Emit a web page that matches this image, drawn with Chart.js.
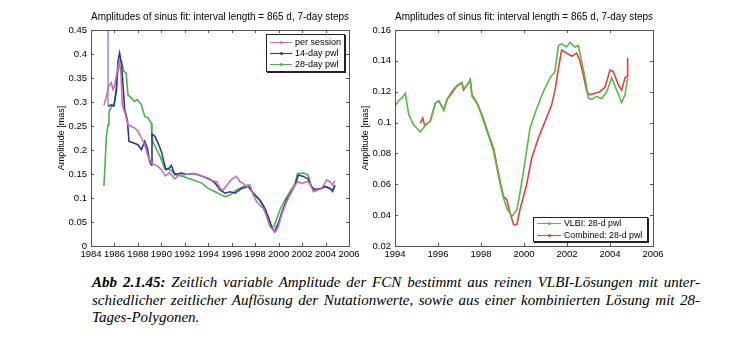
<!DOCTYPE html>
<html lang="de">
<head>
<meta charset="UTF-8">
<title>FCN Amplitude</title>
<script src="https://cdn.jsdelivr.net/npm/chart.js"></script>
<style>
    body {
        margin: 0;
        width: 745px;
        height: 354px;
        background: #fff;
        position: relative;
        overflow: hidden;
        font-family: Arial, "Liberation Sans", sans-serif;
    }
    canvas { position: absolute; top: 0; }
    #leftChart { left: 0; }
    #rightChart { left: 340px; }
    .legend {
        position: absolute;
        background: #fff;
        border: 1px solid #222;
        box-shadow: 1px 1px 0 #222;
        font-size: 9px;
        color: #000;
    }
    .legend .row {
        position: absolute;
        left: 0;
        height: 11px;
        line-height: 11px;
        white-space: nowrap;
    }
    .legend .ln {
        position: absolute;
        top: 5px;
        height: 1px;
    }
    .legend .ln::after {
        content: "";
        position: absolute;
        left: 50%;
        top: -1px;
        width: 3px;
        height: 3px;
        margin-left: -1.5px;
        background: inherit;
        border-radius: 50%;
    }
    .legend .tx { position: absolute; top: 0; }
    #caption {
        position: absolute;
        left: 92px;
        top: 274px;
        width: 608px;
        font-family: "Liberation Serif", "DejaVu Serif", serif;
        font-style: italic;
        font-size: 15px;
        line-height: 17.5px;
        color: #000;
    }
    #caption .j {
        text-align: justify;
        text-align-last: justify;
        white-space: nowrap;
    }
</style>
</head>
<body>
<canvas id="leftChart" width="370" height="270"></canvas>
<canvas id="rightChart" width="405" height="270"></canvas>

<div class="legend" style="left:266px; top:34px; width:77px; height:36px;">
    <div class="row" style="top:2px;"><span class="ln" style="left:3px; width:22px; background:#c46fb6;"></span><span class="tx" style="left:28px;">per session</span></div>
    <div class="row" style="top:13px;"><span class="ln" style="left:3px; width:22px; background:#2d3a8c;"></span><span class="tx" style="left:28px;">14-day pwl</span></div>
    <div class="row" style="top:24px;"><span class="ln" style="left:3px; width:22px; background:#4cb24c;"></span><span class="tx" style="left:28px;">28-day pwl</span></div>
</div>

<div class="legend" style="left:533px; top:217px; width:113px; height:23px; font-size:8.8px;">
    <div class="row" style="top:0px;"><span class="ln" style="left:3px; width:24px; background:#55bb44;"></span><span class="tx" style="left:30px;">VLBI: 28-d pwl</span></div>
    <div class="row" style="top:12px;"><span class="ln" style="left:3px; width:24px; background:#dd4444;"></span><span class="tx" style="left:30px;">Combined: 28-d pwl</span></div>
</div>

<div id="caption">
    <div class="j"><b>Abb 2.1.45:</b> Zeitlich variable Amplitude der FCN bestimmt aus reinen VLBI-Lösungen mit unter-</div>
    <div class="j">schiedlicher zeitlicher Auflösung der Nutationwerte, sowie aus einer kombinierten Lösung mit 28-</div>
    <div>Tages-Polygonen.</div>
</div>

<script>
// ---- data: left panel (VLBI only) ----
var sessYears = [1985.1, 1985.3, 1985.5, 1985.73, 1985.88, 1986.0, 1986.24, 1986.4, 1986.55, 1986.67,
    1986.93, 1987.15, 1987.44, 1987.72, 1988.0, 1988.3, 1988.58, 1988.86, 1989.14, 1989.43,
    1989.71, 1990.0, 1990.34, 1990.71, 1991.14, 1991.5, 1991.87, 1992.3, 1992.87, 1993.44,
    1994.15, 1994.72, 1995.0, 1995.28, 1995.7, 1996.0, 1996.4, 1996.7, 1997.0, 1997.27,
    1997.56, 1997.84, 1998.13, 1998.41, 1998.7, 1998.98, 1999.27, 1999.55, 1999.75, 1999.97,
    2000.26, 2000.68, 2001.1, 2001.4, 2001.68, 2001.97, 2002.4, 2002.67, 2002.96, 2003.38,
    2003.67, 2004.1, 2004.38, 2004.6, 2004.8];
var sessAmp = [0.293, 0.31, 0.333, 0.34, 0.326, 0.333, 0.364, 0.385, 0.36, 0.294,
    0.274, 0.253, 0.249, 0.246, 0.239, 0.225, 0.211, 0.187, 0.173, 0.169,
    0.166, 0.159, 0.146, 0.153, 0.14, 0.148, 0.148, 0.15, 0.151, 0.146,
    0.1375, 0.134, 0.12, 0.1165, 0.13, 0.139, 0.145, 0.134, 0.13, 0.1235,
    0.127, 0.106, 0.092, 0.085, 0.078, 0.061, 0.040, 0.033, 0.030, 0.040,
    0.065, 0.092, 0.113, 0.127, 0.134, 0.13, 0.134, 0.131, 0.113, 0.117,
    0.12, 0.1375, 0.134, 0.127, 0.136];

var pwl14Years = [1985.45, 1985.46, 1985.73, 1985.96, 1986.16, 1986.3, 1986.44, 1986.6, 1986.73, 1986.87,
    1987.1, 1987.24, 1987.58, 1988.0, 1988.3, 1988.58, 1988.8, 1989.0, 1989.14, 1989.2,
    1989.43, 1989.71, 1990.0, 1990.2, 1990.4, 1990.71, 1990.85, 1991.14, 1991.7, 1992.2,
    1992.73, 1993.44, 1994.15, 1994.58, 1995.0, 1995.43, 1995.85, 1996.28, 1996.85, 1997.41,
    1997.84, 1998.41, 1998.84, 1999.1, 1999.4, 1999.63, 1999.97, 2000.26, 2000.68, 2001.1,
    2001.4, 2001.68, 2002.1, 2002.5, 2002.8, 2003.1, 2003.67, 2003.95, 2004.38, 2004.6,
    2004.8];
var pwl14Amp = [0.6, 0.291, 0.294, 0.292, 0.322, 0.385, 0.402, 0.378, 0.336, 0.284,
    0.263, 0.218, 0.215, 0.211, 0.201, 0.218, 0.204, 0.176, 0.169, 0.233,
    0.229, 0.215, 0.197, 0.176, 0.159, 0.163, 0.168, 0.149, 0.152, 0.149,
    0.151, 0.146, 0.139, 0.131, 0.117, 0.11, 0.113, 0.11, 0.12, 0.124,
    0.11, 0.096, 0.078, 0.062, 0.040, 0.030, 0.047, 0.069, 0.096, 0.113,
    0.127, 0.148, 0.145, 0.14, 0.124, 0.117, 0.12, 0.124, 0.12, 0.115,
    0.127];

var pwl28Years = [1985.1, 1985.2, 1985.3, 1985.45, 1985.53, 1985.73, 1985.96, 1986.16, 1986.36, 1986.6,
    1986.8, 1987.0, 1987.15, 1987.44, 1987.72, 1987.95, 1988.3, 1988.58, 1988.86, 1989.14,
    1989.2, 1989.31, 1989.88, 1990.3, 1990.73, 1991.3, 1991.87, 1992.73, 1993.44, 1994.0,
    1994.58, 1995.14, 1995.43, 1995.85, 1996.42, 1997.0, 1997.41, 1997.84, 1998.41, 1998.84,
    1999.1, 1999.4, 1999.6, 1999.8, 2000.1, 2000.55, 2000.96, 2001.4, 2001.6, 2002.1,
    2002.5, 2002.8, 2003.1, 2003.67, 2003.95, 2004.38, 2004.6, 2004.8];
var pwl28Amp = [0.125, 0.17, 0.225, 0.253, 0.28, 0.29, 0.294, 0.329, 0.385, 0.385,
    0.364, 0.36, 0.315, 0.308, 0.301, 0.305, 0.294, 0.27, 0.267, 0.256,
    0.225, 0.215, 0.187, 0.16, 0.159, 0.148, 0.145, 0.1375, 0.131, 0.12,
    0.113, 0.106, 0.103, 0.106, 0.117, 0.124, 0.127, 0.11, 0.094, 0.076,
    0.06, 0.039, 0.041, 0.054, 0.075, 0.096, 0.113, 0.13, 0.151, 0.152,
    0.148, 0.124, 0.117, 0.12, 0.124, 0.12, 0.113, 0.125];

// ---- data: right panel (VLBI vs combined) ----
var vlbiYears = [1994.0, 1994.15, 1994.33, 1994.48, 1994.64, 1994.87, 1995.18, 1995.4, 1995.64, 1995.88,
    1996.04, 1996.27, 1996.42, 1996.65, 1996.88, 1997.11, 1997.19, 1997.34, 1997.5, 1997.58,
    1997.81, 1998.05, 1998.36, 1998.59, 1998.74, 1998.9, 1999.05, 1999.2, 1999.44, 1999.67,
    1999.82, 2000.05, 2000.28, 2000.59, 2000.9, 2001.21, 2001.44, 2001.6, 2001.75, 2001.98,
    2002.14, 2002.37, 2002.53, 2002.68, 2002.84, 2002.99, 2003.15, 2003.38, 2003.61, 2003.85,
    2004.08, 2004.31, 2004.54, 2004.7, 2004.82];
var vlbiAmp = [0.1106, 0.114, 0.116, 0.119, 0.105, 0.0986, 0.094, 0.098, 0.1008, 0.1127,
    0.114, 0.108, 0.115, 0.119, 0.1235, 0.1256, 0.122, 0.124, 0.128, 0.117,
    0.1127, 0.104, 0.091, 0.0814, 0.0705, 0.0597, 0.051, 0.0446, 0.0392, 0.0435,
    0.055, 0.075, 0.0965, 0.109, 0.12, 0.129, 0.133, 0.15, 0.151, 0.149,
    0.152, 0.149, 0.15, 0.1397, 0.129, 0.116, 0.115, 0.117, 0.1155, 0.12,
    0.129, 0.121, 0.113, 0.118, 0.129];

var combYears = [1995.18, 1995.29, 1995.38, 1995.64, 1995.88, 1996.04, 1996.27, 1996.42, 1996.65, 1996.88,
    1997.11, 1997.19, 1997.34, 1997.5, 1997.58, 1997.81, 1998.05, 1998.36, 1998.59, 1998.74,
    1998.9, 1999.05, 1999.2, 1999.38, 1999.52, 1999.67, 1999.81, 2000.12, 2000.36, 2000.67,
    2000.98, 2001.29, 2001.44, 2001.6, 2001.75, 2001.98, 2002.22, 2002.45, 2002.6, 2002.76,
    2002.92, 2003.07, 2003.3, 2003.53, 2003.77, 2004.0, 2004.15, 2004.39, 2004.54, 2004.7,
    2004.8, 2004.82];
var combAmp = [0.0995, 0.103, 0.098, 0.1008, 0.1127, 0.114, 0.108, 0.115, 0.12, 0.124,
    0.126, 0.121, 0.124, 0.1275, 0.118, 0.113, 0.105, 0.092, 0.083, 0.072,
    0.061, 0.052, 0.05, 0.04, 0.0338, 0.034, 0.0435, 0.0597, 0.077, 0.09,
    0.1008, 0.1116, 0.121, 0.135, 0.147, 0.145, 0.143, 0.145, 0.14, 0.131,
    0.12, 0.118, 0.119, 0.12, 0.123, 0.134, 0.133, 0.1245, 0.121, 0.129,
    0.13, 0.142];

var chartTitle = 'Amplitudes of sinus fit: interval length = 865 d, 7-day steps';

function pts(xs, ys) {
    return xs.map(function (x, i) { return {x: x, y: ys[i]}; });
}

function fmtY(v) {
    return String(parseFloat(Number(v).toFixed(2)));
}

// MATLAB-like box with inward ticks on all four sides
var boxTicks = {
    id: 'boxTicks',
    afterDraw: function (chart) {
        var ctx = chart.ctx, a = chart.chartArea, xs = chart.scales.x, ys = chart.scales.y;
        var L = 3;
        ctx.save();
        ctx.strokeStyle = '#555';
        ctx.lineWidth = 1;
        ctx.strokeRect(Math.round(a.left) + 0.5, Math.round(a.top) + 0.5,
            Math.round(a.right - a.left), Math.round(a.bottom - a.top));
        ctx.beginPath();
        xs.ticks.forEach(function (t) {
            var p = Math.round(xs.getPixelForValue(t.value)) + 0.5;
            ctx.moveTo(p, a.bottom); ctx.lineTo(p, a.bottom - L);
            ctx.moveTo(p, a.top); ctx.lineTo(p, a.top + L);
        });
        ys.ticks.forEach(function (t) {
            var p = Math.round(ys.getPixelForValue(t.value)) + 0.5;
            ctx.moveTo(a.left, p); ctx.lineTo(a.left + L, p);
            ctx.moveTo(a.right, p); ctx.lineTo(a.right - L, p);
        });
        ctx.stroke();
        ctx.restore();
    }
};

function makeOptions(o) {
    return {
        responsive: false,
        animation: false,
        layout: {padding: {left: 0, right: o.padRight, top: 0, bottom: 0}},
        plugins: {
            legend: {display: false},
            tooltip: {enabled: false},
            title: {
                display: true,
                text: chartTitle,
                fullSize: false,
                color: '#000',
                font: {family: 'Arial', size: 10.7, weight: 'normal'},
                padding: {top: 11, bottom: 30 - 11 - 10.7 * 1.2}
            }
        },
        elements: {
            point: {radius: 0},
            line: {borderWidth: 1.6, tension: 0}
        },
        scales: {
            x: {
                type: 'linear',
                min: o.xMin, max: o.xMax,
                grid: {display: false, drawTicks: false},
                border: {display: false},
                ticks: {
                    stepSize: 2, padding: 3, color: '#000',
                    font: {family: 'Arial', size: 9.5},
                    maxRotation: 0,
                    autoSkip: false,
                    callback: function (v) { return String(v); }
                },
                afterFit: function (s) { s.height = 24; }
            },
            y: {
                type: 'linear',
                min: o.yMin, max: o.yMax,
                grid: {display: false, drawTicks: false},
                border: {display: false},
                ticks: {
                    stepSize: o.yStep, padding: 4, color: '#000',
                    font: {family: 'Arial', size: 9.5},
                    autoSkip: false,
                    callback: fmtY
                },
                title: {
                    display: true,
                    text: 'Amplitude [mas]',
                    color: '#000',
                    font: {family: 'Arial', size: 9},
                    padding: {top: o.titlePad, bottom: 0}
                },
                afterFit: function (s) { s.width = o.yWidth; }
            }
        }
    };
}

new Chart(document.getElementById('leftChart'), {
    type: 'line',
    data: {
        datasets: [
            {label: 'per session', data: pts(sessYears, sessAmp), borderColor: '#c46fb6'},
            {
                label: '14-day pwl', data: pts(pwl14Years, pwl14Amp), borderColor: '#2d3a8c',
                // the first (off-scale) jump shows up as a thin pale stroke
                segment: {
                    borderColor: function (c) { return c.p0DataIndex === 0 ? '#9aa4d4' : undefined; },
                    borderWidth: function (c) { return c.p0DataIndex === 0 ? 1 : undefined; }
                }
            },
            {label: '28-day pwl', data: pts(pwl28Years, pwl28Amp), borderColor: '#4cb24c'}
        ]
    },
    options: makeOptions({padRight: 21, xMin: 1984, xMax: 2006, yMin: 0, yMax: 0.45, yStep: 0.05,
        yWidth: 91, titlePad: 56}),
    plugins: [boxTicks]
});

new Chart(document.getElementById('rightChart'), {
    type: 'line',
    data: {
        datasets: [
            {label: 'VLBI: 28-d pwl', data: pts(vlbiYears, vlbiAmp), borderColor: '#55bb44'},
            {label: 'Combined: 28-d pwl', data: pts(combYears, combAmp), borderColor: '#dd4444'}
        ]
    },
    options: makeOptions({padRight: 92, xMin: 1994, xMax: 2006, yMin: 0.02, yMax: 0.16, yStep: 0.02,
        yWidth: 55, titlePad: 20}),
    plugins: [boxTicks]
});
</script>
</body>
</html>
